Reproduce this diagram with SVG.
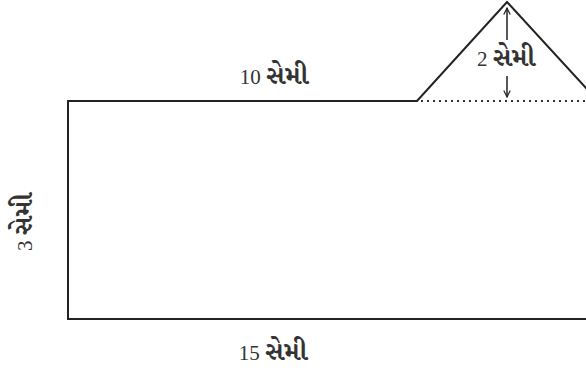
<svg xmlns="http://www.w3.org/2000/svg" width="586" height="372" viewBox="0 0 586 372">
<style>
.ln{fill:none;stroke:#222;stroke-width:2}
.dot{fill:none;stroke:#333;stroke-width:2;stroke-dasharray:2 4}
.ar{fill:none;stroke:#222;stroke-width:1.5}
text{font-family:"Liberation Serif","Noto Serif Gujarati","Noto Sans Gujarati",serif;font-size:21px;fill:#333}
.gu{font-size:26px;font-weight:bold}
</style>
<defs>
<marker id="ah" viewBox="0 0 10 10" refX="9" refY="5" markerWidth="8" markerHeight="8" orient="auto" markerUnits="userSpaceOnUse">
<path d="M1,1 L9,5 L1,9" fill="none" stroke="#222" stroke-width="1.5"/>
</marker>
</defs>
<g id="shape">
<path class="ln" d="M600,319 H68 V101 H417 L507,2 L597,100"/>
</g>
<g id="connectors">
<line class="dot" x1="421" y1="101" x2="586" y2="101"/>
<line class="ar" x1="507" y1="40" x2="507" y2="8" marker-end="url(#ah)"/>
<line class="ar" x1="507" y1="76" x2="507" y2="97" marker-end="url(#ah)"/>
</g>
<g id="labels">
<text x="274" y="84" text-anchor="middle">10 <tspan class="gu">સેમી</tspan></text>
<text x="506" y="66" text-anchor="middle">2 <tspan class="gu">સેમી</tspan></text>
<text x="273" y="360" text-anchor="middle">15 <tspan class="gu">સેમી</tspan></text>
<text transform="translate(32,222) rotate(-90)" text-anchor="middle">3 <tspan class="gu">સેમી</tspan></text>
</g>
</svg>
